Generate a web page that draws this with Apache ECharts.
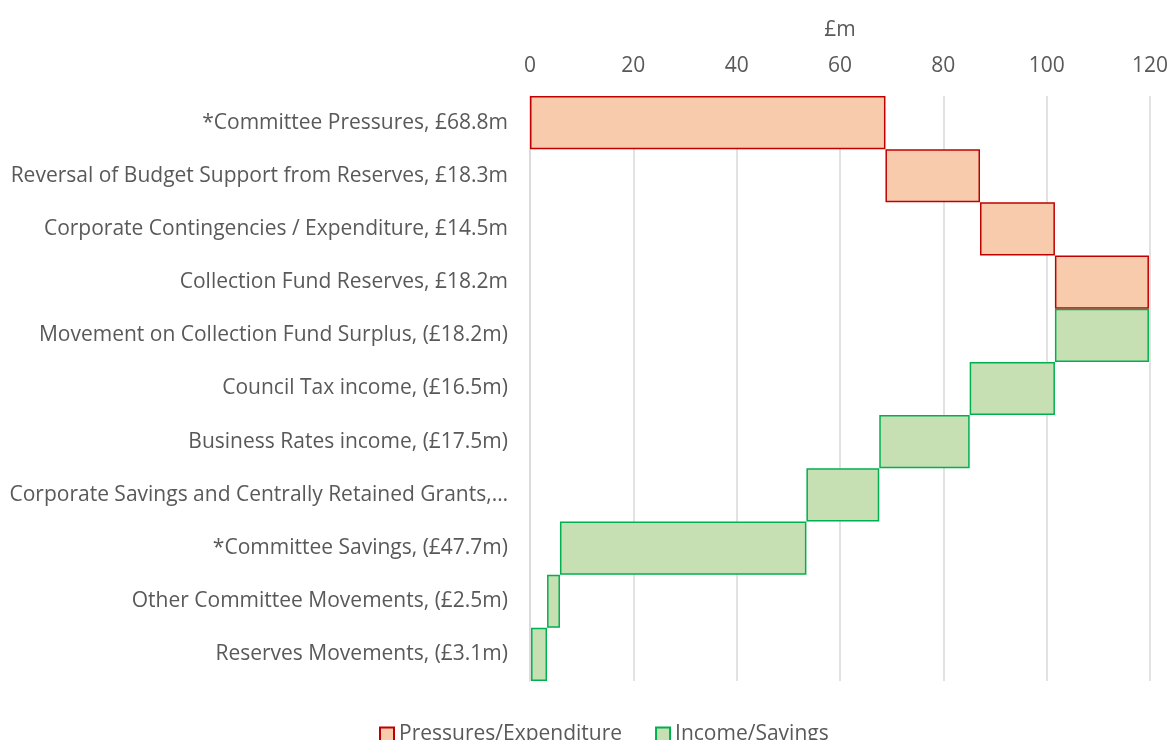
<!DOCTYPE html>
<html>
<head>
<meta charset="utf-8">
<script src="https://cdn.jsdelivr.net/npm/echarts@6/dist/echarts.min.js"></script>
<style>
  html, body { margin: 0; padding: 0; background: #fff; }
  #waterfall_chart { width: 1171px; height: 740px; }
</style>
</head>
<body>
<div id="waterfall_chart"></div>
<script>
var categories = [
    '*Committee Pressures, £68.8m',
    'Reversal of Budget Support from Reserves, £18.3m',
    'Corporate Contingencies / Expenditure, £14.5m',
    'Collection Fund Reserves, £18.2m',
    'Movement on Collection Fund Surplus, (£18.2m)',
    'Council Tax income, (£16.5m)',
    'Business Rates income, (£17.5m)',
    'Corporate Savings and Centrally Retained Grants,…',
    '*Committee Savings, (£47.7m)',
    'Other Committee Movements, (£2.5m)',
    'Reserves Movements, (£3.1m)'
];
// positive = pressure / expenditure, negative = income / saving
var changes = [68.8, 18.3, 14.5, 18.2, -18.2, -16.5, -17.5, -14.1, -47.7, -2.5, -3.1];
var xTicks = { min: 0, max: 120, interval: 20 };

function display_waterfall(){
    var chart = echarts.init(document.getElementById('waterfall_chart'));

    // waterfall: invisible base bar + visible step
    var base = [], pressures = [], income = [];
    var running = 0;
    for (var i = 0; i < changes.length; i++) {
        var v = changes[i];
        if (v >= 0) {
            base.push(running);
            pressures.push(v);
            income.push('-');
        } else {
            base.push(running + v);
            pressures.push('-');
            income.push(-v);
        }
        running += v;
    }

    var font = 'Open Sans';
    var option = {
        animation: false,
        textStyle: { fontFamily: font },
        grid: { left: 530, right: 21, top: 96, bottom: 59, containLabel: false },
        legend: {
            data: ['Pressures/Expenditure', 'Income/Savings'],
            left: 374,
            top: 719,
            itemWidth: 14,
            itemHeight: 14,
            itemGap: 33,
            icon: 'rect',
            textStyle: { fontSize: 21, color: '#595959', fontFamily: font }
        },
        xAxis: {
            type: 'value',
            position: 'top',
            min: xTicks.min,
            max: xTicks.max,
            interval: xTicks.interval,
            name: '£m',
            nameLocation: 'middle',
            nameGap: 55,
            nameTextStyle: { fontSize: 21, color: '#595959' },
            axisLine: { show: false },
            axisTick: { show: false },
            axisLabel: { fontSize: 21, color: '#595959', margin: 19 },
            splitLine: { show: true, lineStyle: { color: '#d9d9d9', width: 1.5 } }
        },
        yAxis: {
            type: 'category',
            inverse: true,
            data: categories,
            axisLine: { show: true, lineStyle: { color: '#d9d9d9', width: 1.5 } },
            axisTick: { show: false },
            axisLabel: { fontSize: 21, color: '#595959', margin: 22 }
        },
        series: [
            {
                type: 'bar',
                stack: 'wf',
                data: base,
                barCategoryGap: 0,
                itemStyle: { color: 'transparent', borderColor: 'transparent' },
                emphasis: { disabled: true },
                silent: true
            },
            {
                name: 'Pressures/Expenditure',
                type: 'bar',
                stack: 'wf',
                data: pressures,
                barCategoryGap: 0,
                itemStyle: { color: '#f8cbad', borderColor: '#c00000', borderWidth: 1.5 }
            },
            {
                name: 'Income/Savings',
                type: 'bar',
                stack: 'wf',
                data: income,
                barCategoryGap: 0,
                itemStyle: { color: '#c6e0b4', borderColor: '#00b050', borderWidth: 1.5 }
            }
        ]
    };
    chart.clear();
    chart.setOption(option);
}

display_waterfall();
</script>
</body>
</html>
